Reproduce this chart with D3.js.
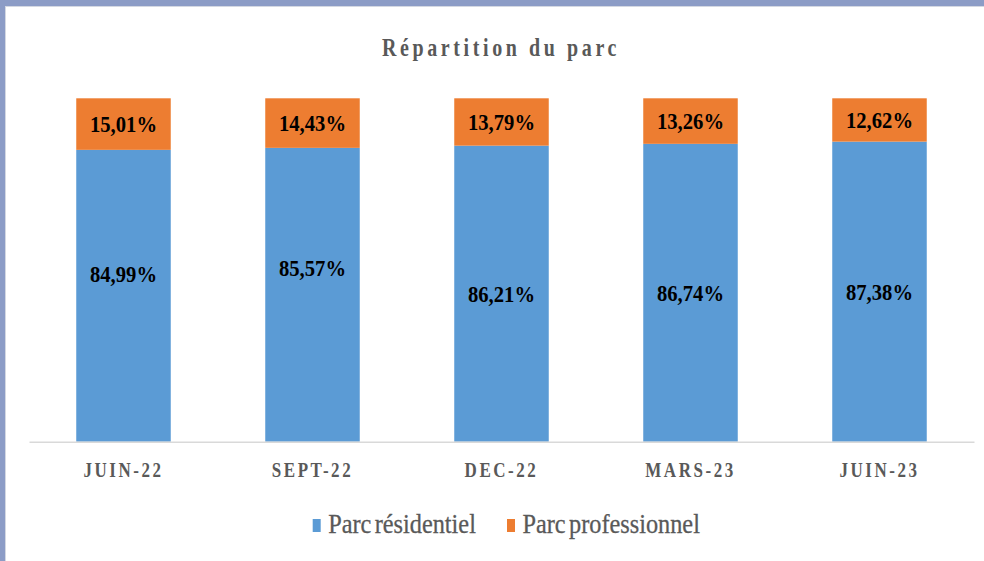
<!DOCTYPE html>
<html>
<head>
<meta charset="utf-8">
<script src="https://cdn.jsdelivr.net/npm/d3@7"></script>
<style>
  html, body { margin: 0; padding: 0; background: #fff; }
  svg { display: block; }
</style>
</head>
<body>
<svg id="chart" width="984" height="561"></svg>
<script>
// ---- Data ----
const categories = ["JUIN-22", "SEPT-22", "DEC-22", "MARS-23", "JUIN-23"];
const residentiel = [84.99, 85.57, 86.21, 86.74, 87.38];
const professionnel = [15.01, 14.43, 13.79, 13.26, 12.62];
const seriesNames = ["Parc résidentiel", "Parc professionnel"];
const titleText = "Répartition du parc";

// ---- Styles ----
const colors = ["#5b9bd5", "#ed7d31"];
const serif = "'Liberation Serif', 'Times New Roman', 'DejaVu Serif', serif";
const gray = "#595959";

const svg = d3.select("#chart");
const W = 984, H = 561;

// frame
svg.append("rect").attr("x", 0).attr("y", 0).attr("width", W).attr("height", H).attr("fill", "#fff");
svg.append("rect").attr("x", 0).attr("y", 0).attr("width", W).attr("height", 6).attr("fill", "#8c9cc6");
svg.append("rect").attr("x", 0).attr("y", 0).attr("width", 5).attr("height", H).attr("fill", "#8c9cc6");
svg.append("line").attr("x1", 5).attr("x2", W).attr("y1", 6.5).attr("y2", 6.5).attr("stroke", "#d4d8e2").attr("stroke-width", 1);
svg.append("line").attr("x1", 5.5).attr("x2", 5.5).attr("y1", 6).attr("y2", H).attr("stroke", "#d4d8e2").attr("stroke-width", 1);

// scales
const x = d3.scaleBand().domain(categories).range([29, 974]).paddingInner(0.5).paddingOuter(0.25);
const y = d3.scaleLinear().domain([0, 100]).range([441.7, 98.3]);

const rows = categories.map((c, i) => ({ cat: c, res: residentiel[i], pro: professionnel[i] }));
const stack = d3.stack().keys(["res", "pro"])(rows);

const g = svg.append("g");
stack.forEach((layer, li) => {
  g.append("g").selectAll("rect").data(layer).join("rect")
    .attr("x", d => x(d.data.cat))
    .attr("y", d => y(d[1]))
    .attr("width", x.bandwidth())
    .attr("height", d => y(d[0]) - y(d[1]))
    .attr("fill", colors[li]);
});

// axis line
const xAxis = d3.axisBottom(x).tickSize(0).tickPadding(0);
const ax = svg.append("g").attr("transform", `translate(0,${y(0)})`).call(xAxis);
ax.select(".domain").attr("stroke", "#d9d9d9").attr("stroke-width", 1.5);
ax.selectAll(".tick text").remove();
// axis labels (condensed, spaced)
ax.selectAll(".tick").append("text")
  .attr("transform", "translate(0,35.5) scale(0.85,1)")
  .attr("text-anchor", "middle")
  .attr("font-family", serif)
  .attr("font-weight", "bold")
  .attr("font-size", 20)
  .attr("letter-spacing", 3)
  .attr("fill", gray)
  .text(d => d);

// value labels
const fmt = v => v.toFixed(2).replace(".", ",") + "%";
const labelNudge = [-22, -27, 0, 0, 0];
stack.forEach((layer, li) => {
  g.append("g").selectAll("text").data(layer).join("text")
    .attr("transform", (d, i) => {
      const cx = x(d.data.cat) + x.bandwidth() / 2;
      const cy = (y(d[0]) + y(d[1])) / 2 + (li === 0 ? labelNudge[i] : 0);
      return `translate(${cx},${cy}) scale(0.86,1)`;
    })
    .attr("dy", "0.33em")
    .attr("text-anchor", "middle")
    .attr("font-family", serif)
    .attr("font-weight", "bold")
    .attr("font-size", 24)
    .attr("fill", "#000")
    .text(d => fmt(d[1] - d[0]));
});

// title
svg.append("text")
  .attr("transform", `translate(${W / 2 + 9},56) scale(0.8,1)`)
  .attr("text-anchor", "middle")
  .attr("font-family", serif)
  .attr("font-weight", "bold")
  .attr("font-size", 25)
  .attr("letter-spacing", 4.5)
  .attr("fill", gray)
  .text(titleText);

// legend
const legendX = [312.7, 507];
seriesNames.forEach((name, i) => {
  svg.append("rect").attr("x", legendX[i]).attr("y", 519).attr("width", 8).attr("height", 13).attr("fill", colors[i]);
  svg.append("text")
    .attr("transform", `translate(${legendX[i] + 15.5},533) scale(0.9,1)`)
    .attr("font-family", serif)
    .attr("font-size", 27)
    .attr("stroke", gray)
    .attr("stroke-width", 0.3)
    .attr("fill", gray)
    .attr("word-spacing", -3)
    .text(name);
});
</script>
</body>
</html>
